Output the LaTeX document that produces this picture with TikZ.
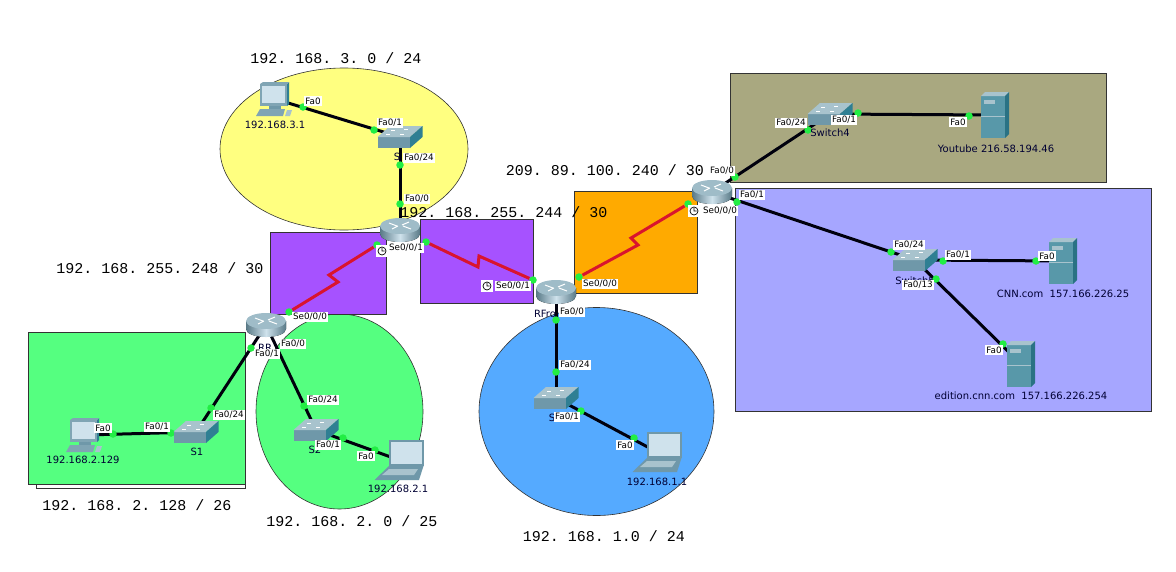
\documentclass[tikz,border=0pt]{standalone}
\usepackage{fontspec}
\setsansfont{DejaVu Sans}
\setmonofont{Liberation Mono}
\definecolor{cyellow}{HTML}{FFFF80}
\definecolor{cpurple}{HTML}{A652FF}
\definecolor{corange}{HTML}{FFAA00}
\definecolor{colive}{HTML}{A9A880}
\definecolor{clilac}{HTML}{A6A6FF}
\definecolor{cgreen}{HTML}{55FF80}
\definecolor{cblue}{HTML}{55AAFF}
\definecolor{cdot}{HTML}{22EE44}
\definecolor{cserial}{HTML}{D9142E}
\definecolor{cfront}{HTML}{6F98A9}
\definecolor{ctop}{HTML}{A8C3CD}
\definecolor{cside}{HTML}{2F7F93}
\definecolor{cscreen}{HTML}{CFE2EC}
\tikzset{
    region/.style={draw=black!80, line width=0.6pt},
    devbox/.style={inner sep=0pt, minimum size=4pt},
    netlink/.style={line width=3pt, black!95!blue},
    seriallink/.style={line width=3pt, cserial},
    portdot/.style={circle, fill=cdot, inner sep=0pt, minimum size=7.5pt},
    portlabel/.style={fill=white, inner sep=1.2pt, font=\sffamily\fontsize{8.8}{10}\selectfont},
    devlabel/.style={inner sep=0pt, black!80!blue, font=\sffamily\fontsize{10}{12}\selectfont},
    netlabel/.style={inner sep=0pt, font=\ttfamily\fontsize{15}{17}\selectfont},
    routericon/.pic={
        \fill[left color=cfront!80!black, right color=cfront!80!black, middle color=cscreen] (-20,-4) -- (20,-4) -- (20,4)
            .. controls (20,9) and (10,12) .. (0,12) .. controls (-10,12) and (-20,9) .. (-20,4) -- cycle;
        \fill[ctop!85!cfront] (0,-4) ellipse [x radius=20, y radius=8];
        \draw[white, line width=1pt] (-11,-7) -- (-3,-4) (3,-4) -- (11,-1) (-8,-1) -- (-2,-4) (2,-5) -- (9,-8);
    },
    switchicon/.pic={
        \fill[cfront] (-22.5,0) rectangle (10,11);
        \fill[ctop] (-22.5,0) -- (10,0) -- (22.5,-11) -- (-10,-11) -- cycle;
        \fill[cside] (10,0) -- (22.5,-11) -- (22.5,0) -- (10,11) -- cycle;
        \draw[white, line width=0.8pt] (-9,-7) -- (-5,-7) (4,-8) -- (8,-8) (-14,-3) -- (-10,-3) (0,-3) -- (4,-3);
    },
    servericon/.pic={
        \fill[cside!80!white] (-14,-19) rectangle (10,23);
        \fill[ctop] (-14,-19) -- (10,-19) -- (14,-23) -- (-10,-23) -- cycle;
        \fill[cside!90!black] (10,-19) -- (14,-23) -- (14,19) -- (10,23) -- cycle;
        \fill[ctop] (-11,-15) rectangle (0,-11);
        \draw[ctop, line width=0.5pt] (-14,1) -- (10,1);
    },
    pcicon/.pic={
        \fill[cfront!70!ctop] (-15,-15) rectangle (12,7);
        \fill[cside] (12,-15) -- (14,-17) -- (14,5) -- (12,7) -- cycle;
        \fill[cfront!70!ctop] (-15,-15) -- (12,-15) -- (14,-17) -- (-12,-17) -- cycle;
        \fill[cscreen] (-13,-13) rectangle (10,4);
        \fill[cfront] (-6,7) rectangle (6,10);
        \fill[cfront!70!ctop] (-15,10) -- (10,10) -- (8,17) -- (-19,17) -- cycle;
        \fill[ctop] (12,11) -- (17,11) -- (15,17) -- (10,17) -- cycle;
    },
    laptopicon/.pic={
        \fill[cfront] (-10.5,-20) rectangle (24.5,6);
        \fill[cscreen] (-8.5,-18) rectangle (22.5,4);
        \fill[cfront] (-10,6) -- (24.5,6) -- (20,20) -- (-24.5,20) -- cycle;
        \fill[ctop] (-10,9) -- (19,9) -- (15,15) -- (-17,15) -- cycle;
    },
    clockicon/.pic={
        \fill[white] (-6,-6) rectangle (6,6);
        \draw[black, line width=0.7pt] (0,0) circle (4) (0,-3) -- (0,0) -- (2.5,0);
    },
}
\begin{document}
\begin{tikzpicture}[x=1pt, y=-1pt]
    \useasboundingbox (0,0) rectangle (1176,571);

    % Coloured network areas
    \draw[region, fill=cyellow] (344,149) ellipse [x radius=124, y radius=81];
    \draw[region, fill=cgreen] (339.5,411.5) ellipse [x radius=83.5, y radius=97.5];
    \draw[region, fill=cblue] (596.5,411.5) ellipse [x radius=117.5, y radius=104];
    \draw[region, fill=white] (36,340) rectangle (245,488);
    \draw[region, fill=cgreen] (28,332) rectangle (245,484);
    \draw[region, fill=cpurple] (270,232) rectangle (386,314);
    \draw[region, fill=cpurple] (420,219) rectangle (533,303);
    \draw[region, fill=corange] (574,191) rectangle (697,293);
    \draw[region, fill=colive] (730,73) rectangle (1106,182);
    \draw[region, fill=clilac] (735,188) rectangle (1151,411);

    % Devices
    \foreach \x/\y/\name in {400/230/rthree, 266/325/rr, 556/292/rfront, 712/192/risp,
        400/137/sthree, 196/432/sone, 316/430/stwo, 556/398/sfront, 830/114/sfour, 915/260/sfive,
        275/99/pcthree, 85/435/pcone, 399/460/laptwo, 657/452/lapone,
        995/115/youtube, 1063/261/cnn, 1021/364/edition} {
        \node[devbox] (\name) at (\x,\y) {};
    }

    % Ethernet links
    \foreach \a/\b in {pcthree/sthree, sthree/rthree, rr/sone, rr/stwo, sone/pcone, stwo/laptwo,
        rfront/sfront, sfront/lapone, risp/sfour, sfour/youtube, risp/sfive, sfive/cnn, sfive/edition} {
        \draw[netlink] (\a) -- (\b);
    }

    % Port dots
    \foreach \x/\y/\name in {303/107/dota, 374/130/dotb, 400/165/dotc, 400/204/dotd,
        251/348/dote, 211/408/dotf, 171/433/dotg, 113/434/doth, 304/406/doti, 343/438/dotj,
        375/450/dotk, 556/320/dotl, 556/372/dotm, 581/411/dotn, 634/438/doto,
        735/177/dotp, 808/130/dotq, 858/113/dotr, 969/116/dots, 737/202/dott, 891/252/dotu,
        943/261/dotv, 1036/261/dotw, 936/279/dotx, 1003/344/doty,
        426/242/serb, 533/280/serc, 377/245/serd, 289/312/sere, 579/277/serf, 688/204/serg} {
        \node[portdot] (\name) at (\x,\y) {};
    }

    % Serial links
    \coordinate (kinka) at (479,256);
    \coordinate (kinkb) at (478,267);
    \coordinate (kinkc) at (338,282);
    \coordinate (kinkd) at (329,275);
    \coordinate (kinke) at (638,245);
    \coordinate (kinkf) at (631,238);
    \draw[seriallink] (serb) -- (kinkb) -- (kinka) -- (serc);
    \draw[seriallink] (serd) -- (kinkd) -- (kinkc) -- (sere);
    \draw[seriallink] (serf) -- (kinke) -- (kinkf) -- (serg);

    % Icons
    \foreach \name in {rthree, rr, rfront, risp} { \pic at (\name) {routericon}; }
    \foreach \name in {sthree, sone, stwo, sfront, sfour, sfive} { \pic at (\name) {switchicon}; }
    \foreach \name in {youtube, cnn, edition} { \pic at (\name) {servericon}; }
    \foreach \name in {pcthree, pcone} { \pic at (\name) {pcicon}; }
    \foreach \name in {laptwo, lapone} { \pic at (\name) {laptopicon}; }

    % Device names
    \node[devlabel] (namea) at (275,125) {192.168.3.1};
    \node[devlabel] (nameb) at (83,460) {192.168.2.129};
    \node[devlabel] (namec) at (398,489) {192.168.2.1};
    \node[devlabel] (named) at (657,482) {192.168.1.1};
    \node[devlabel] (namee) at (197,452) {S1};
    \node[devlabel] (namef) at (315,450) {S2};
    \node[devlabel] (nameg) at (397,157) {S};
    \node[devlabel] (nameh) at (265,348) {RR};
    \node[devlabel] (namei) at (545,314) {RFro};
    \node[devlabel] (namej) at (552,418) {S};
    \node[devlabel] (namek) at (830,133) {Switch4};
    \node[devlabel] (namel) at (915,281) {Switch5};
    \node[devlabel] (namem) at (996,149) {Youtube 216.58.194.46};
    \node[devlabel] (namen) at (1063,294) {CNN.com\ \ 157.166.226.25};
    \node[devlabel] (nameo) at (1021,396) {edition.cnn.com\ \ 157.166.226.254};

    % Port labels
    \foreach \x/\y/\txt/\name in {313/101/Fa0/porta, 390/123/Fa0\slash 1/portb, 419/158/Fa0\slash 24/portc,
        417/199/Fa0\slash 0/portd, 293/344/Fa0\slash 0/porte, 267/354/Fa0\slash 1/portf,
        229/415/Fa0\slash 24/portg, 157/427/Fa0\slash 1/porth, 103/428/Fa0/porti,
        323/400/Fa0\slash 24/portj, 328/445/Fa0\slash 1/portk, 366/456/Fa0/portl,
        572/312/Fa0\slash 0/portm, 575/365/Fa0\slash 24/portn, 567/417/Fa0\slash 1/porto, 625/445/Fa0/portp,
        722/171/Fa0\slash 0/portq, 752/195/Fa0\slash 1/portr, 791/123/Fa0\slash 24/ports,
        844/120/Fa0\slash 1/portt, 958/122/Fa0/portu, 909/245/Fa0\slash 24/portv,
        958/255/Fa0\slash 1/portw, 1047/256/Fa0/portx, 918/285/Fa0\slash 13/porty, 994/350/Fa0/portz,
        310/317/Se0\slash 0\slash 0/sepa, 406/248/Se0\slash 0\slash 1/sepb, 513/286/Se0\slash 0\slash 1/sepc,
        600/284/Se0\slash 0\slash 0/sepd, 720/211/Se0\slash 0\slash 0/sepe} {
        \node[portlabel] (\name) at (\x,\y) {\txt};
    }
    \pic at (382,251) {clockicon};
    \pic at (487,286) {clockicon};
    \pic at (694,211) {clockicon};

    % Subnet addresses
    \node[netlabel] (neta) at (336,58) {192. 168. 3. 0 / 24};
    \node[netlabel] (netb) at (504,212) {192. 168. 255. 244 / 30};
    \node[netlabel] (netc) at (605,170) {209. 89. 100. 240 / 30};
    \node[netlabel] (netd) at (160,268) {192. 168. 255. 248 / 30};
    \node[netlabel] (nete) at (137,505) {192. 168. 2. 128 / 26};
    \node[netlabel] (netf) at (352,521) {192. 168. 2. 0 / 25};
    \node[netlabel] (netg) at (604,536) {192. 168. 1.0 / 24};
\end{tikzpicture}
\end{document}
